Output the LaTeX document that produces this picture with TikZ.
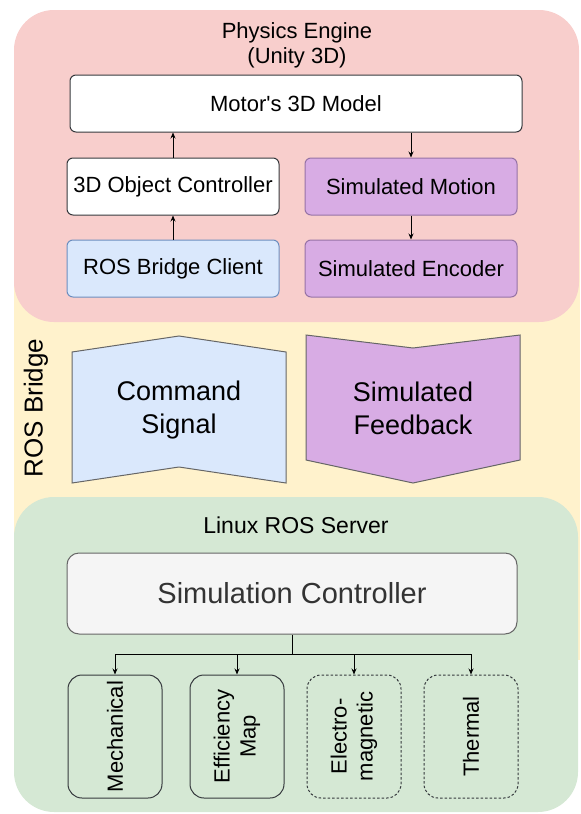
\documentclass[tikz,border=0pt]{standalone}
\usepackage{fontspec}
\setmainfont{Liberation Sans}
\usetikzlibrary{arrows.meta}
\definecolor{pinkbg}{HTML}{F8CECC}
\definecolor{yellowbg}{HTML}{FFF2CC}
\definecolor{greenbg}{HTML}{D5E8D4}
\definecolor{bluefill}{HTML}{DAE8FC}
\definecolor{bluestroke}{HTML}{6C8EBF}
\definecolor{purplefill}{HTML}{D8ACE4}
\definecolor{purplestroke}{HTML}{9673A6}
\definecolor{darkstroke}{HTML}{36393D}
\definecolor{greyfill}{HTML}{F5F5F5}
\definecolor{greystroke}{HTML}{666666}
\definecolor{greytext}{HTML}{333333}
\tikzset{
  fs/.style 2 args={font=\fontsize{#1}{#2}\selectfont},
  box/.style={draw=darkstroke, line width=1pt, rounded corners=6, minimum width=212, minimum height=57, inner sep=0pt, fs={22}{26}, align=center},
  purplebox/.style={box, fill=purplefill, draw=purplestroke},
  bluebox/.style={box, fill=bluefill, draw=bluestroke},
  subbox/.style={draw=darkstroke, line width=1pt, fill=greenbg, rounded corners=14, minimum width=94, minimum height=123, inner sep=0pt},
  dashedbox/.style={subbox, dash pattern=on 2.5pt off 2pt},
  rotlabel/.style={rotate=90, fs={22}{26}, align=center, text=black},
  arr/.style={line width=0.9pt, -{Stealth[length=6pt,width=5pt]}},
  bridgeshape/.style={draw=greystroke, line width=1pt, line join=miter},
}
\begin{document}
\begin{tikzpicture}[x=1pt,y=-1pt]
\useasboundingbox (0,0) rectangle (581,814);
% backgrounds
\fill[yellowbg] (14,150) rectangle (579.5,660);
\fill[pinkbg, rounded corners=40] (14,10) rectangle (579,322);
\fill[greenbg, rounded corners=40] (14,497) rectangle (578,812);

% Physics engine
\node[fs={22}{25}, align=center] (pe) at (297,45.5) {Physics Engine\\(Unity 3D)};
\node[box, fill=white, minimum width=452] (motor) at (296,103.5) {Motor\textquotesingle s 3D Model};
\node[box, fill=white] (ctrl) at (173,186.5) {3D Object Controller};
\node[purplebox] (smot) at (411,186.5) {Simulated Motion};
\node[bluebox] (rbc) at (173,268.5) {ROS Bridge Client};
\node[purplebox] (senc) at (411,268.5) {Simulated Encoder};
\draw[arr] (rbc) -- (ctrl);
\draw[arr] (ctrl) -- (ctrl.north |- motor.south);
\draw[arr] (smot.north |- motor.south) -- (smot);
\draw[arr] (smot) -- (senc);

% ROS bridge
\node[rotate=90, fs={26}{30}] (rb) at (36,408) {ROS Bridge};
\draw[bridgeshape, fill=bluefill] (72,352) -- (179,336) -- (286,352) -- (286,483) -- (179,467) -- (72,483) -- cycle;
\node[fs={27}{33}, align=center] (cmd) at (179,410) {Command\\Signal};
\draw[bridgeshape, fill=purplefill] (306,335) -- (413,348) -- (520,335) -- (520,460) -- (413,483) -- (306,460) -- cycle;
\node[fs={27}{33}, align=center] (fb) at (413,408) {Simulated\\Feedback};

% Linux ROS server
\node[fs={23}{27}] (lrs) at (296,525) {Linux ROS Server};
\node[draw=greystroke, fill=greyfill, line width=1pt, rounded corners=12, minimum width=450, minimum height=81, inner sep=0pt, fs={29}{34}, text=greytext] (sim) at (292,593.5) {Simulation Controller};
\node[subbox] (mech) at (115,736.5) {};
\node[rotlabel] (mechl) at (mech.center) {Mechanical};
\node[subbox] (eff) at (237,736.5) {};
\node[rotlabel] (effl) at (eff.center) {Efficiency\\Map};
\node[dashedbox] (em) at (354,736.5) {};
\node[rotlabel] (eml) at (em.center) {Electro-\\magnetic};
\node[dashedbox] (th) at (471,736.5) {};
\node[rotlabel] (thl) at (th.center) {Thermal};
\coordinate (br) at (292,654);
\draw[line width=0.9pt] (sim.south) -- (br);
\draw[arr] (br) -| (mech.north);
\draw[arr] (br) -| (eff.north);
\draw[arr] (br) -| (em.north);
\draw[arr] (br) -| (th.north);
\end{tikzpicture}
\end{document}
